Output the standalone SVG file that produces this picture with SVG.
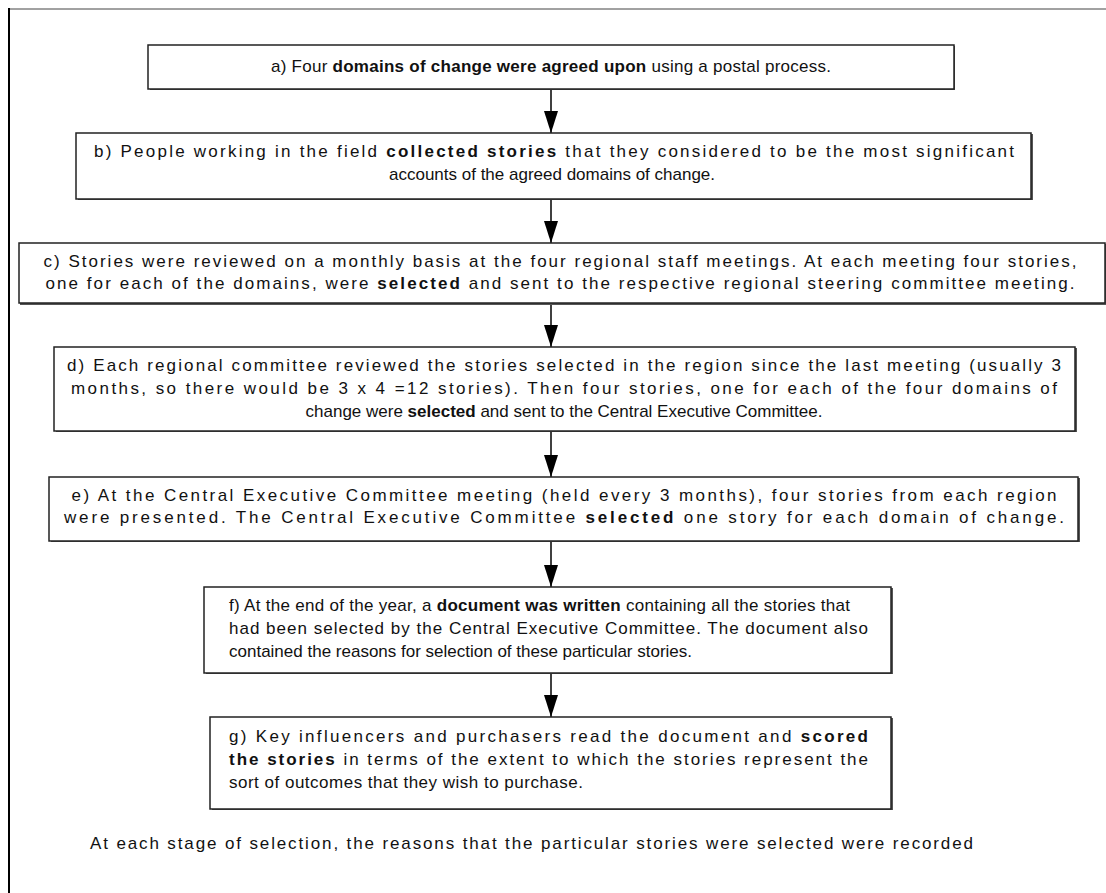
<svg xmlns="http://www.w3.org/2000/svg" width="1106" height="893" viewBox="0 0 1106 893">
<style>
.box{fill:#fff;stroke:#222;stroke-width:1.5}
.sh{fill:#555}
text{font-family:"Liberation Sans",Arial,sans-serif;font-size:17px;fill:#111}
.c{text-anchor:middle}
.b{font-weight:bold}
.ln{stroke:#000;stroke-width:1.5}
</style>
<defs>
<marker id="ah" markerWidth="22" markerHeight="14" refX="22" refY="7" orient="auto" markerUnits="userSpaceOnUse" viewBox="0 0 22 14">
<path d="M0,0 L22,7 L0,14 Z" fill="#000"/>
</marker>
</defs>
<rect width="1106" height="893" fill="#fff"/>
<line x1="8" y1="9" x2="1106" y2="9" stroke="#444" stroke-width="1"/>
<line x1="9" y1="8" x2="9" y2="893" stroke="#000" stroke-width="2"/>

<g id="connectors">
<line class="ln" x1="551" y1="89" x2="551" y2="133" marker-end="url(#ah)"/>
<line class="ln" x1="551" y1="199" x2="551" y2="243" marker-end="url(#ah)"/>
<line class="ln" x1="551" y1="304" x2="551" y2="347" marker-end="url(#ah)"/>
<line class="ln" x1="551" y1="431" x2="551" y2="477" marker-end="url(#ah)"/>
<line class="ln" x1="551" y1="541" x2="551" y2="587" marker-end="url(#ah)"/>
<line class="ln" x1="551" y1="673" x2="551" y2="717" marker-end="url(#ah)"/>
</g>

<g id="node-a">
<rect class="sh" x="150" y="46" width="805" height="44"/>
<rect class="box" x="148" y="45" width="806" height="44"/>
<text class="c" x="551" y="72" textLength="560" lengthAdjust="spacing">a) Four <tspan class="b">domains of change were agreed upon</tspan> using a postal process.</text>
</g>

<g id="node-b">
<rect class="sh" x="78" y="134" width="955" height="66"/>
<rect class="box" x="76" y="133" width="955" height="66"/>
<text class="c" x="554" y="157" textLength="920" lengthAdjust="spacing">b) People working in the field <tspan class="b">collected stories</tspan> that they considered to be the most significant</text>
<text class="c" x="552" y="180">accounts of the agreed domains of change.</text>
</g>

<g id="node-c">
<rect class="sh" x="20" y="244" width="1086" height="61"/>
<rect class="box" x="19" y="243" width="1086" height="60"/>
<text class="c" x="560" y="267" textLength="1033" lengthAdjust="spacing">c) Stories were reviewed on a monthly basis at the four regional staff meetings. At each meeting four stories,</text>
<text class="c" x="560" y="289" textLength="1029" lengthAdjust="spacing">one for each of the domains, were <tspan class="b">selected</tspan> and sent to the respective regional steering committee meeting.</text>
</g>

<g id="node-d">
<rect class="sh" x="56" y="348" width="1021" height="84"/>
<rect class="box" x="54" y="347" width="1021" height="84"/>
<text class="c" x="564" y="371" textLength="994" lengthAdjust="spacing">d) Each regional committee reviewed the stories selected in the region since the last meeting (usually 3</text>
<text class="c" x="564" y="394" textLength="986" lengthAdjust="spacing">months, so there would be 3 x 4 =12 stories). Then four stories, one for each of the four domains of</text>
<text class="c" x="564" y="417">change were <tspan class="b">selected</tspan> and sent to the Central Executive Committee.</text>
</g>

<g id="node-e">
<rect class="sh" x="51" y="478" width="1029" height="64"/>
<rect class="box" x="49" y="477" width="1029" height="64"/>
<text class="c" x="564" y="501" textLength="985" lengthAdjust="spacing">e) At the Central Executive Committee meeting (held every 3 months), four stories from each region</text>
<text class="c" x="564" y="523" textLength="1000" lengthAdjust="spacing">were presented. The Central Executive Committee <tspan class="b">selected</tspan> one story for each domain of change.</text>
</g>

<g id="node-f">
<rect class="sh" x="206" y="588" width="687" height="86"/>
<rect class="box" x="204" y="587" width="687" height="86"/>
<text x="229" y="611" textLength="621" lengthAdjust="spacing">f) At the end of the year, a <tspan class="b">document was written</tspan> containing all the stories that</text>
<text x="229" y="634" textLength="639" lengthAdjust="spacing">had been selected by the Central Executive Committee. The document also</text>
<text x="229" y="657">contained the reasons for selection of these particular stories.</text>
</g>

<g id="node-g">
<rect class="sh" x="212" y="718" width="681" height="92"/>
<rect class="box" x="210" y="717" width="681" height="92"/>
<text x="229" y="742" textLength="639" lengthAdjust="spacing">g) Key influencers and purchasers read the document and <tspan class="b">scored</tspan></text>
<text x="229" y="765" textLength="639" lengthAdjust="spacing"><tspan class="b">the stories</tspan> in terms of the extent to which the stories represent the</text>
<text x="229" y="788" textLength="354" lengthAdjust="spacing">sort of outcomes that they wish to purchase.</text>
</g>

<g id="note">
<text x="90" y="849" textLength="883" lengthAdjust="spacing">At each stage of selection, the reasons that the particular stories were selected were recorded</text>
</g>
</svg>
